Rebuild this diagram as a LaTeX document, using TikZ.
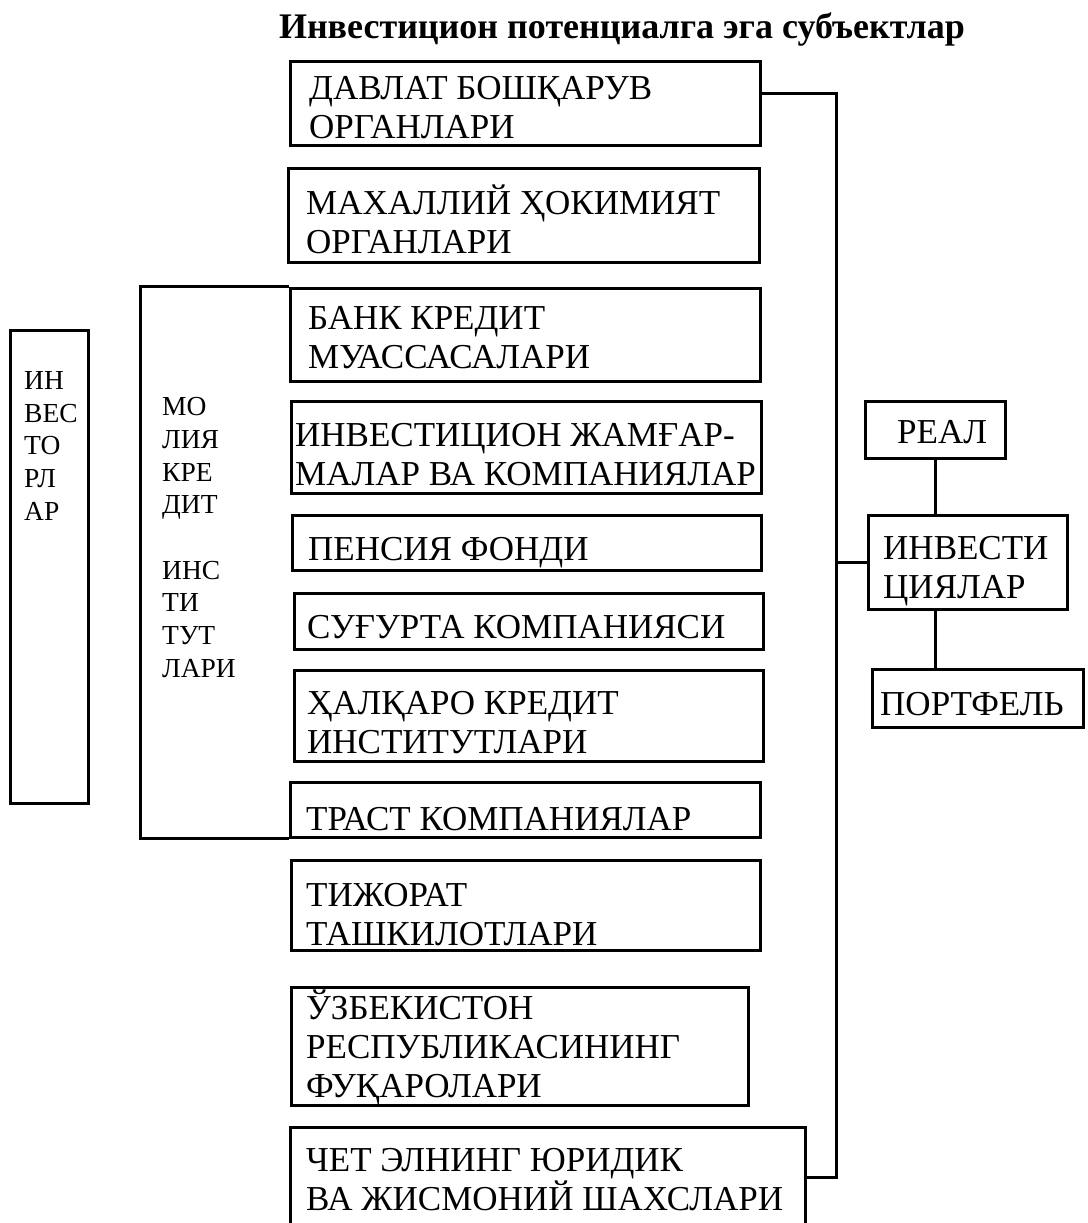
\documentclass[tikz,border=0pt]{standalone}
\usepackage{fontspec}
\setmainfont{Liberation Serif}
\begin{document}
\begin{tikzpicture}[x=1pt,y=-1pt,
  box/.style={draw, line width=3pt, inner sep=0pt},
  conn/.style={line width=3pt},
  txt/.style={inner sep=0pt, align=left, anchor=base west, font=\fontsize{35}{39}\selectfont},
  small/.style={inner sep=0pt, align=left, anchor=base west, font=\fontsize{27.5}{32.6}\selectfont}]
\useasboundingbox (0,0) rectangle (1087,1223);
\clip (0,0) rectangle (1087,1223);
\fill[white] (0,0) rectangle (1087,1223);

% title
\node[inner sep=0pt, anchor=base, font=\fontsize{36}{40}\selectfont\bfseries] (title) at (622,39) {Инвестицион потенциалга эга субъектлар};

% main boxes
\node[box, minimum width=470, minimum height=83] (d1) at (525,103.5) {};
\node[box, minimum width=471, minimum height=94] (d2) at (523.5,215) {};
\node[box, minimum width=470, minimum height=93] (d3) at (525,334.5) {};
\node[box, minimum width=470, minimum height=92] (d4) at (526,447) {};
\node[box, minimum width=469, minimum height=55] (d5) at (526.5,542.5) {};
\node[box, minimum width=469, minimum height=56] (d6) at (528.5,621) {};
\node[box, minimum width=469, minimum height=91] (d7) at (528.5,715.5) {};
\node[box, minimum width=470, minimum height=55] (d8) at (525,809.5) {};
\node[box, minimum width=469, minimum height=90] (d9) at (525.5,905) {};
\node[box, minimum width=457, minimum height=118] (d10) at (519.5,1046) {};
\node[box, minimum width=515, minimum height=108] (d11) at (547.5,1181) {};

% texts of main boxes (anchor = baseline of the last line)
\node[txt] (t1) at (309,138) {ДАВЛАТ БОШҚАРУВ\\ОРГАНЛАРИ};
\node[txt] (t2) at (306,253) {МАХАЛЛИЙ ҲОКИМИЯТ\\ОРГАНЛАРИ};
\node[txt] (t3) at (308,368) {БАНК КРЕДИТ\\МУАССАСАЛАРИ};
\node[txt] (t4) at (295,485) {ИНВЕСТИЦИОН ЖАМҒАР-\\МАЛАР ВА КОМПАНИЯЛАР};
\node[txt] (t5) at (308,560) {ПЕНСИЯ ФОНДИ};
\node[txt] (t6) at (307,638) {СУҒУРТА КОМПАНИЯСИ};
\node[txt] (t7) at (307,753) {ҲАЛҚАРО КРЕДИТ\\ИНСТИТУТЛАРИ};
\node[txt] (t8) at (306,830) {ТРАСТ КОМПАНИЯЛАР};
\node[txt] (t9) at (306,945) {ТИЖОРАТ\\ТАШКИЛОТЛАРИ};
\node[txt] (t10) at (306,1097) {ЎЗБЕКИСТОН\\РЕСПУБЛИКАСИНИНГ\\ФУҚАРОЛАРИ};
\node[txt] (t11) at (306,1210) {ЧЕТ ЭЛНИНГ ЮРИДИК\\ВА ЖИСМОНИЙ ШАХСЛАРИ};

% investors box
\node[box, minimum width=78, minimum height=473] (inv0) at (49,566.5) {};
\node[small] (tinv0) at (24,520) {ИН\\ВЕС\\ТО\\РЛ\\АР};

% finance-credit institutions bracket
\coordinate (brk) at (140,837);
\draw[conn] (d3.north west) -| (brk |- d8.south west) -- (d8.south west);
\node[small] (tmol) at (162,677) {МО\\ЛИЯ\\КРЕ\\ДИТ\\[33pt]ИНС\\ТИ\\ТУТ\\ЛАРИ};

% right side
\node[box, minimum width=140, minimum height=57] (real) at (935,429.5) {};
\node[box, minimum width=199, minimum height=94] (inv) at (967.5,562) {};
\node[box, minimum width=211, minimum height=58] (port) at (977.5,698) {};
\node[txt] (treal) at (897,443) {РЕАЛ};
\node[txt] (tinv) at (883,598) {ИНВЕСТИ\\ЦИЯЛАР};
\node[txt] (tport) at (880,715) {ПОРТФЕЛЬ};

\coordinate (bus) at (836,1177);
\coordinate (top) at (836,93);
\draw[conn] (d1.east |- top) -- (top) -- (bus) -- (d11.east |- bus);
\draw[conn] (inv.west) -- (inv.west -| bus);
\draw[conn] (real.south) -- (real.south |- inv.north);
\draw[conn] (real.south |- inv.south) -- (real.south |- port.north);
\end{tikzpicture}
\end{document}
